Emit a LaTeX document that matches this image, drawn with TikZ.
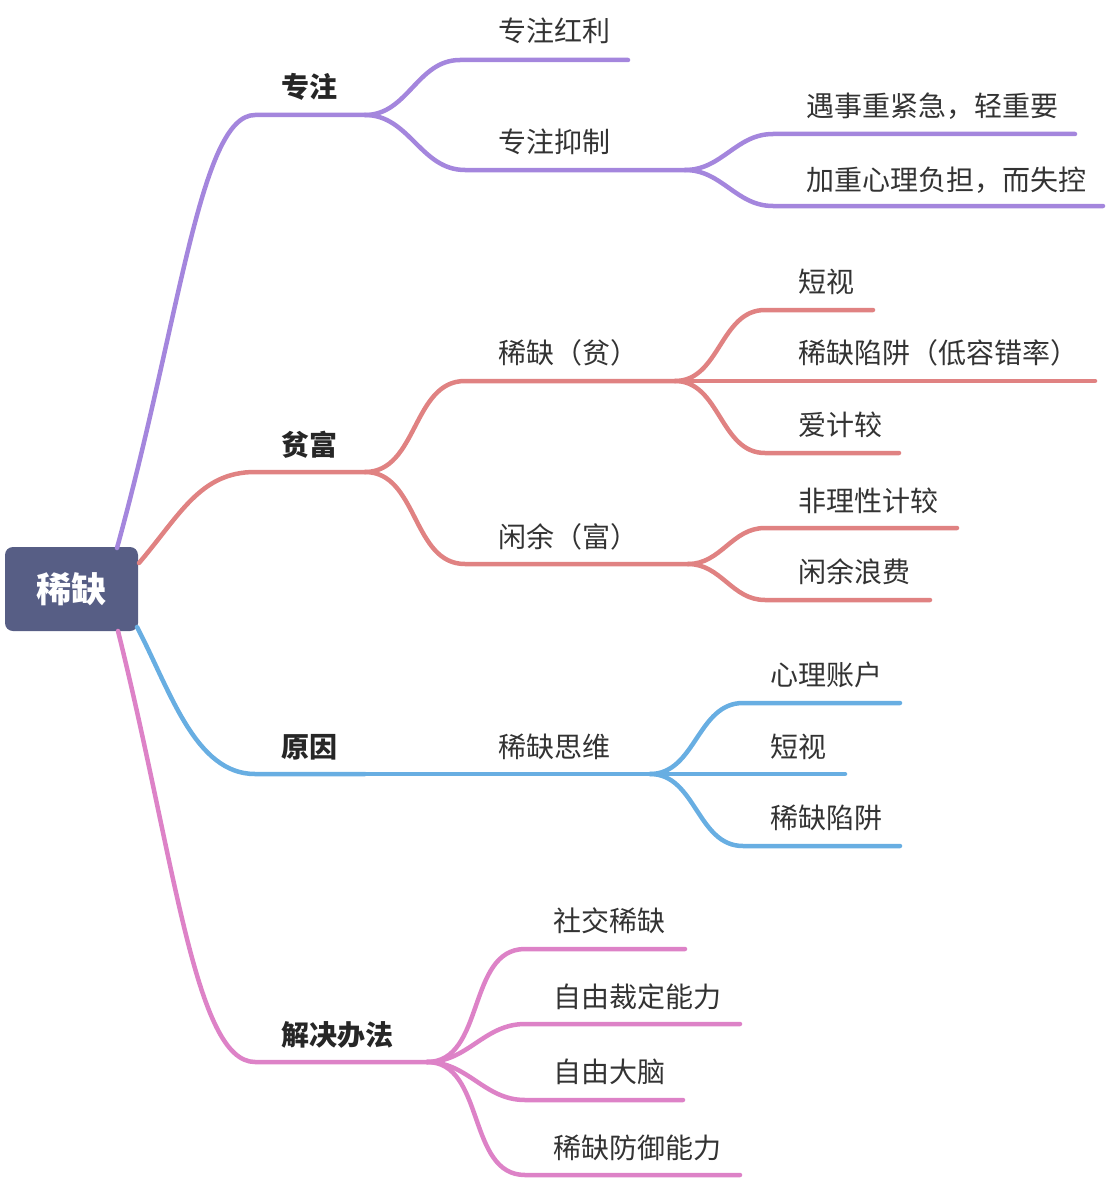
\documentclass[tikz,border=0pt]{standalone}
\usepackage{fontspec}
\setmainfont{Noto Sans CJK SC}
\usepackage{xcolor}
\usepackage{tikz}

\definecolor{rootblue}{HTML}{575E85}
\definecolor{focuspurple}{HTML}{A486DD}
\definecolor{wealthred}{HTML}{E08282}
\definecolor{causeblue}{HTML}{68AEE2}
\definecolor{fixpink}{HTML}{DD82C7}
\definecolor{inkgray}{HTML}{333333}

\begin{document}
\begin{tikzpicture}[x=1pt, y=-1pt,
    branch/.style={line width=4.5pt, line cap=round},
    topic/.style={anchor=base west, inner sep=0pt, text=inkgray,
        font=\fontsize{28}{32}\selectfont},
    maintopic/.style={topic, text=black!85, font=\fontsize{28}{32}\selectfont\bfseries}]
    \useasboundingbox (0,0) rectangle (1106,1180);

    % root
    \node[fill=rootblue, rounded corners=8pt, minimum width=133pt, minimum height=84pt,
        text=white, font=\fontsize{35}{40}\selectfont\bfseries] (root) at (71.5,589) {稀缺};
    \coordinate (rootA) at (117,548);
    \coordinate (rootB) at (139,563);
    \coordinate (rootC) at (137,627);
    \coordinate (rootD) at (118,631);

    % focus branch
    \coordinate (focusS) at (255,115);
    \coordinate (focusF) at (365,115);
    \node[maintopic] (focus) at (281,98) {专注};
    \draw[branch, focuspurple] (rootA) .. controls (180,320) and (200,115) .. (focusS) -- (focusF);

    \coordinate (bonusS) at (460,60);
    \coordinate (bonusE) at (628,60);
    \node[topic] (bonus) at (498,42) {专注红利};
    \draw[branch, focuspurple] (focusF) to[out=0, in=180] (bonusS) -- (bonusE);

    \coordinate (suppS) at (465,170);
    \coordinate (suppF) at (685,170);
    \node[topic] (supp) at (498,153) {专注抑制};
    \draw[branch, focuspurple] (focusF) to[out=0, in=180] (suppS) -- (suppF);

    \coordinate (urgentS) at (773,134);
    \coordinate (urgentE) at (1075,134);
    \node[topic] (urgent) at (806,117) {遇事重紧急，轻重要};
    \draw[branch, focuspurple] (suppF) to[out=0, in=180] (urgentS) -- (urgentE);

    \coordinate (burdenS) at (773,206);
    \coordinate (burdenE) at (1103,206);
    \node[topic] (burden) at (806,190) {加重心理负担，而失控};
    \draw[branch, focuspurple] (suppF) to[out=0, in=180] (burdenS) -- (burdenE);

    % wealth branch
    \coordinate (wealthS) at (255,472);
    \coordinate (wealthF) at (365,472);
    \node[maintopic] (wealth) at (281,455) {贫富};
    \draw[branch, wealthred] (rootB) .. controls (180,515) and (200,472) .. (wealthS) -- (wealthF);

    \coordinate (poorS) at (465,381);
    \coordinate (poorF) at (675,381);
    \node[topic] (poor) at (498,363) {稀缺（贫）};
    \draw[branch, wealthred] (wealthF) to[out=0, in=180] (poorS) -- (poorF);

    \coordinate (richS) at (465,564);
    \coordinate (richF) at (688,564);
    \node[topic] (rich) at (498,547) {闲余（富）};
    \draw[branch, wealthred] (wealthF) to[out=0, in=180] (richS) -- (richF);

    \coordinate (shortS) at (765,310);
    \coordinate (shortE) at (873,310);
    \node[topic] (short) at (798,292) {短视};
    \draw[branch, wealthred] (poorF) to[out=0, in=180] (shortS) -- (shortE);

    \coordinate (trapS) at (765,381);
    \coordinate (trapE) at (1095,381);
    \node[topic] (trap) at (798,363) {稀缺陷阱（低容错率）};
    \draw[branch, wealthred] (poorF) -- (trapS) -- (trapE);

    \coordinate (fussS) at (765,453);
    \coordinate (fussE) at (899,453);
    \node[topic] (fuss) at (798,435) {爱计较};
    \draw[branch, wealthred] (poorF) to[out=0, in=180] (fussS) -- (fussE);

    \coordinate (irratS) at (765,528);
    \coordinate (irratE) at (957,528);
    \node[topic] (irrat) at (798,511) {非理性计较};
    \draw[branch, wealthred] (richF) to[out=0, in=180] (irratS) -- (irratE);

    \coordinate (wasteS) at (765,600);
    \coordinate (wasteE) at (930,600);
    \node[topic] (waste) at (798,582) {闲余浪费};
    \draw[branch, wealthred] (richF) to[out=0, in=180] (wasteS) -- (wasteE);

    % cause branch
    \coordinate (causeS) at (255,774);
    \coordinate (causeF) at (365,774);
    \node[maintopic] (cause) at (281,757) {原因};
    \draw[branch, causeblue] (rootC) .. controls (170,690) and (195,774) .. (causeS) -- (causeF);

    \coordinate (mindF) at (650,774);
    \node[topic] (mind) at (498,757) {稀缺思维};
    \draw[branch, causeblue] (causeF) -- (mindF);

    \coordinate (accountS) at (743,703);
    \coordinate (accountE) at (900,703);
    \node[topic] (account) at (770,685) {心理账户};
    \draw[branch, causeblue] (mindF) to[out=0, in=180] (accountS) -- (accountE);

    \coordinate (myopS) at (743,774);
    \coordinate (myopE) at (845,774);
    \node[topic] (myop) at (770,757) {短视};
    \draw[branch, causeblue] (mindF) -- (myopS) -- (myopE);

    \coordinate (pitS) at (743,846);
    \coordinate (pitE) at (900,846);
    \node[topic] (pit) at (770,828) {稀缺陷阱};
    \draw[branch, causeblue] (mindF) to[out=0, in=180] (pitS) -- (pitE);

    % remedy branch
    \coordinate (fixS) at (255,1062);
    \coordinate (fixF) at (427,1062);
    \node[maintopic] (fix) at (281,1045) {解决办法};
    \draw[branch, fixpink] (rootD) .. controls (175,860) and (195,1062) .. (fixS) -- (fixF);

    \coordinate (socialS) at (525,949);
    \coordinate (socialE) at (685,949);
    \node[topic] (social) at (553,931) {社交稀缺};
    \draw[branch, fixpink] (fixF) to[out=0, in=180] (socialS) -- (socialE);

    \coordinate (judgeS) at (525,1024);
    \coordinate (judgeE) at (740,1024);
    \node[topic] (judge) at (553,1007) {自由裁定能力};
    \draw[branch, fixpink] (fixF) to[out=0, in=180] (judgeS) -- (judgeE);

    \coordinate (brainS) at (525,1100);
    \coordinate (brainE) at (683,1100);
    \node[topic] (brain) at (553,1082) {自由大脑};
    \draw[branch, fixpink] (fixF) to[out=0, in=180] (brainS) -- (brainE);

    \coordinate (guardS) at (525,1175);
    \coordinate (guardE) at (740,1175);
    \node[topic] (guard) at (553,1158) {稀缺防御能力};
    \draw[branch, fixpink] (fixF) to[out=0, in=180] (guardS) -- (guardE);
\end{tikzpicture}
\end{document}
